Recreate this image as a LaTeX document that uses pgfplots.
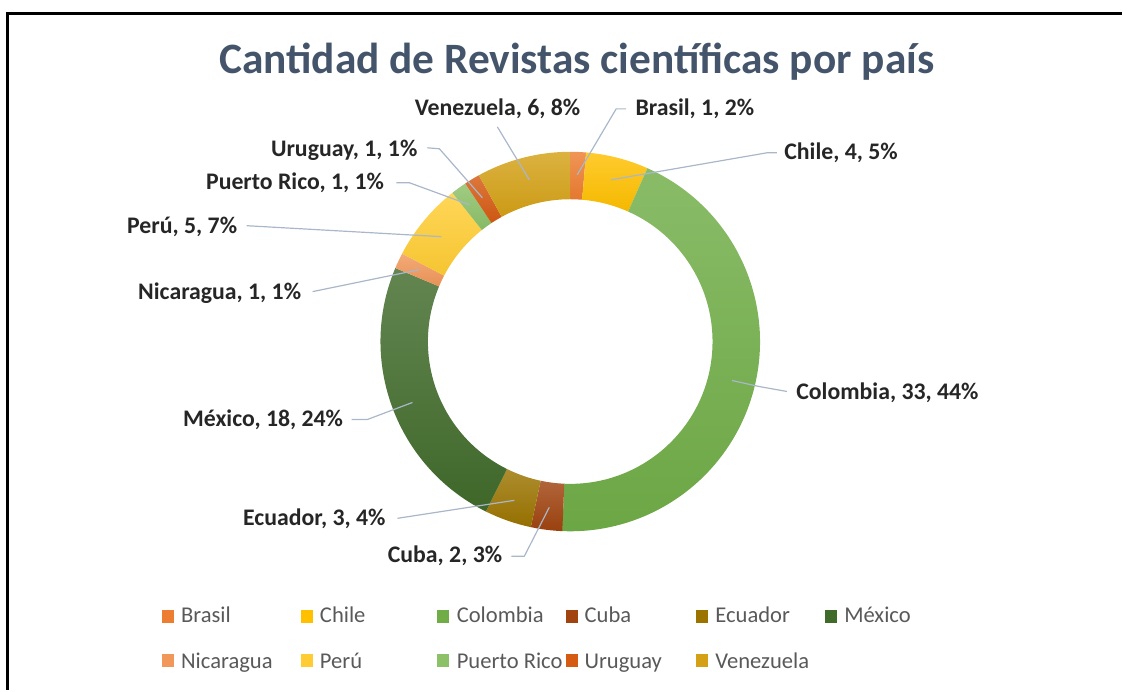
\documentclass[border=0pt]{standalone}
\usepackage{pgfplots}
\pgfplotsset{compat=1.18}
\usepackage{pgfplotstable}
\usepackage{fontspec}
\setmainfont{Carlito}

\definecolor{col0}{HTML}{ED7D31}% Brasil
\definecolor{col1}{HTML}{FFC000}% Chile
\definecolor{col2}{HTML}{70AD47}% Colombia
\definecolor{col3}{HTML}{A0430F}% Cuba
\definecolor{col4}{HTML}{9B7400}% Ecuador
\definecolor{col5}{HTML}{416B2B}% Mexico
\definecolor{col6}{HTML}{F1975A}% Nicaragua
\definecolor{col7}{HTML}{FFCD33}% Peru
\definecolor{col8}{HTML}{8CC168}% Puerto Rico
\definecolor{col9}{HTML}{D55A12}% Uruguay
\definecolor{col10}{HTML}{D4A116}% Venezuela
\definecolor{titlecol}{HTML}{44546A}
\definecolor{labcol}{HTML}{262626}
\definecolor{legcol}{HTML}{595959}
\definecolor{leadcol}{HTML}{A9B7C8}

% values (Brasil, Chile, Colombia, Cuba, Ecuador, Mexico, Nicaragua, Peru, Puerto Rico, Uruguay, Venezuela)
\pgfplotstableread{
v
1
4
33
2
3
18
1
5
1
1
6
}\datatable

\newcommand\donutsector[3]{%
  \shade[top color=col#1!82!white,bottom color=col#1!96!black]
    ([shift={(#2:95pt)}]C) arc[start angle=#2,end angle=#3,radius=95pt]
    -- ([shift={(#3:71.25pt)}]C) arc[start angle=#3,end angle=#2,radius=71.25pt] -- cycle;}

\gdef\mytot{0}
\foreach \i in {0,...,10}{%
  \pgfplotstablegetelem{\i}{v}\of\datatable
  \pgfmathsetmacro\mytmp{\mytot+\pgfplotsretval}%
  \global\let\mytot\mytmp}
\gdef\mycum{0}
\gdef\donut{}
\foreach \i in {0,...,10}{%
  \pgfplotstablegetelem{\i}{v}\of\datatable
  \pgfmathsetmacro\mya{90-\mycum/\mytot*360}%
  \pgfmathsetmacro\mynext{\mycum+\pgfplotsretval}%
  \pgfmathsetmacro\myb{90-\mynext/\mytot*360}%
  \xdef\donut{\unexpanded\expandafter{\donut}\noexpand\donutsector{\i}{\mya}{\myb}}%
  \global\let\mycum\mynext}

\newcommand\lab{\fontsize{11.9}{14}\selectfont\bfseries\color{labcol}}
\newcommand\leg{\fontsize{11.3}{14}\selectfont\color{legcol}}

\begin{document}
\begin{tikzpicture}
\begin{axis}[
  x=0.5pt, y=0.5pt,
  xmin=0, xmax=1123, ymin=0, ymax=691,
  hide axis, clip=false, scale only axis,
  leader/.style={draw=leadcol, line width=0.6pt, mark=none, forget plot},
]
\path (axis cs:0,0) rectangle (axis cs:1123,691);
\draw[line width=1.5pt, line join=miter] (axis cs:8,0) -- (axis cs:8,677) -- (axis cs:1123,677);
\coordinate (C) at (axis cs:571,349);
\donut

\node[anchor=base, inner sep=0pt, font=\fontsize{21.7}{26}\selectfont\bfseries, text=titlecol]
  at (axis cs:577.5,617) {Cantidad de Revistas científicas por país};

% leader lines
\addplot[leader] coordinates {(498,564) (530,511)};
\addplot[leader] coordinates {(627,582) (617,582) (578,516)};
\addplot[leader] coordinates {(778,538) (768,538) (612,511)};
\addplot[leader] coordinates {(788,299) (760,304) (733,310)};
\addplot[leader] coordinates {(352,271) (368,271) (413,288)};
\addplot[leader] coordinates {(398,172) (515,190)};
\addplot[leader] coordinates {(512,134) (525,134) (550,183)};
\addplot[leader] coordinates {(313,399) (420,421)};
\addplot[leader] coordinates {(247,465) (442,454)};
\addplot[leader] coordinates {(397,508) (410,508) (470,486)};
\addplot[leader] coordinates {(428,543) (440,542) (483,493)};

% data labels
\node[anchor=base west, inner sep=0pt] at (axis cs:415,575) {\lab Venezuela, 6, 8\%};
\node[anchor=base west, inner sep=0pt] at (axis cs:636,575) {\lab Brasil, 1, 2\%};
\node[anchor=base west, inner sep=0pt] at (axis cs:785,531) {\lab Chile, 4, 5\%};
\node[anchor=base west, inner sep=0pt] at (axis cs:797,291) {\lab Colombia, 33, 44\%};
\node[anchor=base west, inner sep=0pt] at (axis cs:183,264) {\lab México, 18, 24\%};
\node[anchor=base west, inner sep=0pt] at (axis cs:243,165) {\lab Ecuador, 3, 4\%};
\node[anchor=base west, inner sep=0pt] at (axis cs:388,128) {\lab Cuba, 2, 3\%};
\node[anchor=base west, inner sep=0pt] at (axis cs:138,391) {\lab Nicaragua, 1, 1\%};
\node[anchor=base west, inner sep=0pt] at (axis cs:127,457) {\lab Perú, 5, 7\%};
\node[anchor=base west, inner sep=0pt] at (axis cs:206,501) {\lab Puerto Rico, 1, 1\%};
\node[anchor=base west, inner sep=0pt] at (axis cs:271,534) {\lab Uruguay, 1, 1\%};

% legend
\fill[col0] (axis cs:162,67) rectangle (axis cs:174,80);
\node[anchor=base west, inner sep=0pt] at (axis cs:181,68) {\leg Brasil};
\fill[col1] (axis cs:301,67) rectangle (axis cs:313,80);
\node[anchor=base west, inner sep=0pt] at (axis cs:320,68) {\leg Chile};
\fill[col2] (axis cs:438,67) rectangle (axis cs:450,80);
\node[anchor=base west, inner sep=0pt] at (axis cs:457,68) {\leg Colombia};
\fill[col3] (axis cs:567,67) rectangle (axis cs:579,80);
\node[anchor=base west, inner sep=0pt] at (axis cs:585,68) {\leg Cuba};
\fill[col4] (axis cs:697,67) rectangle (axis cs:709,80);
\node[anchor=base west, inner sep=0pt] at (axis cs:716,68) {\leg Ecuador};
\fill[col5] (axis cs:826,67) rectangle (axis cs:838,80);
\node[anchor=base west, inner sep=0pt] at (axis cs:845,68) {\leg México};
\fill[col6] (axis cs:162,23) rectangle (axis cs:174,36);
\node[anchor=base west, inner sep=0pt] at (axis cs:181,22) {\leg Nicaragua};
\fill[col7] (axis cs:301,23) rectangle (axis cs:313,36);
\node[anchor=base west, inner sep=0pt] at (axis cs:320,22) {\leg Perú};
\fill[col8] (axis cs:438,23) rectangle (axis cs:450,36);
\node[anchor=base west, inner sep=0pt] at (axis cs:457,22) {\leg Puerto Rico};
\fill[col9] (axis cs:567,23) rectangle (axis cs:579,36);
\node[anchor=base west, inner sep=0pt] at (axis cs:585,22) {\leg Uruguay};
\fill[col10] (axis cs:697,23) rectangle (axis cs:709,36);
\node[anchor=base west, inner sep=0pt] at (axis cs:716,22) {\leg Venezuela};
\end{axis}
\end{tikzpicture}
\end{document}
